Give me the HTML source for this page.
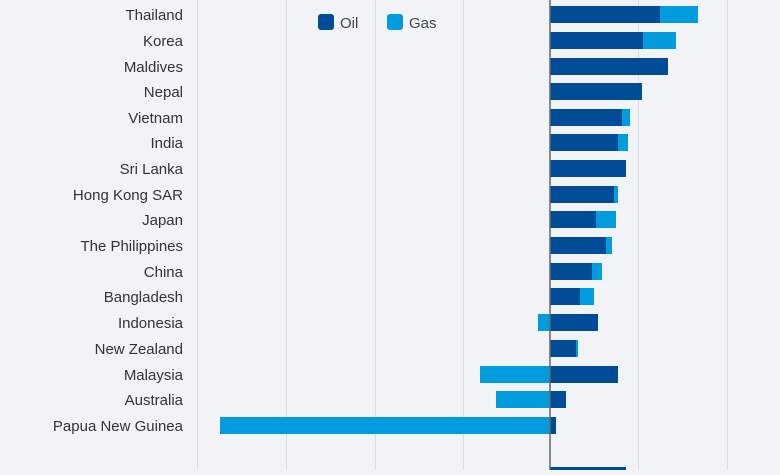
<!DOCTYPE html><html><head><style>body{margin:0;background:#f2f3f6;}</style></head><body>
<svg width="780" height="470" xmlns="http://www.w3.org/2000/svg" font-family="Liberation Sans, sans-serif">
<rect width="780" height="470" fill="#f2f3f6"/>
<g stroke="#dcdee3" stroke-width="1">
<line x1="197.5" y1="0" x2="197.5" y2="470"/><line x1="286.5" y1="0" x2="286.5" y2="470"/><line x1="375.5" y1="0" x2="375.5" y2="470"/><line x1="463.5" y1="0" x2="463.5" y2="470"/><line x1="638.5" y1="0" x2="638.5" y2="470"/><line x1="727.5" y1="0" x2="727.5" y2="470"/>
</g>
<g font-size="15" fill="#333" text-anchor="end">
<text x="183" y="20">Thailand</text><text x="183" y="46">Korea</text><text x="183" y="72">Maldives</text><text x="183" y="97">Nepal</text><text x="183" y="123">Vietnam</text><text x="183" y="148">India</text><text x="183" y="174">Sri Lanka</text><text x="183" y="200">Hong Kong SAR</text><text x="183" y="225">Japan</text><text x="183" y="251">The Philippines</text><text x="183" y="277">China</text><text x="183" y="302">Bangladesh</text><text x="183" y="328">Indonesia</text><text x="183" y="354">New Zealand</text><text x="183" y="380">Malaysia</text><text x="183" y="405">Australia</text><text x="183" y="431">Papua New Guinea</text>
</g>
<g fill="#004c97">
<rect x="550" y="6" width="110" height="17"/><rect x="550" y="32" width="93" height="17"/><rect x="550" y="58" width="118" height="17"/><rect x="550" y="83" width="92" height="17"/><rect x="550" y="109" width="72" height="17"/><rect x="550" y="134" width="68" height="17"/><rect x="550" y="160" width="76" height="17"/><rect x="550" y="186" width="64" height="17"/><rect x="550" y="211" width="46" height="17"/><rect x="550" y="237" width="56" height="17"/><rect x="550" y="263" width="42" height="17"/><rect x="550" y="288" width="30" height="17"/><rect x="550" y="314" width="48" height="17"/><rect x="550" y="340" width="26" height="17"/><rect x="550" y="366" width="68" height="17"/><rect x="550" y="391" width="16" height="17"/><rect x="550" y="417" width="6" height="17"/><rect x="550" y="467" width="76" height="17"/>
<rect x="318" y="14" width="16" height="16" rx="3"/>
</g>
<g fill="#009cde">
<rect x="660" y="6" width="38" height="17"/><rect x="643" y="32" width="33" height="17"/><rect x="622" y="109" width="8" height="17"/><rect x="618" y="134" width="10" height="17"/><rect x="614" y="186" width="4" height="17"/><rect x="596" y="211" width="20" height="17"/><rect x="606" y="237" width="6" height="17"/><rect x="592" y="263" width="10" height="17"/><rect x="580" y="288" width="14" height="17"/><rect x="538" y="314" width="12" height="17"/><rect x="576" y="340" width="2" height="17"/><rect x="480" y="366" width="70" height="17"/><rect x="496" y="391" width="54" height="17"/><rect x="220" y="417" width="330" height="17"/>
<rect x="387" y="14" width="16" height="16" rx="3"/>
</g>
<line x1="550" y1="0" x2="550" y2="470" stroke="#666" stroke-width="1.5"/>
<g font-size="15" fill="#444"><text x="340" y="28">Oil</text><text x="409" y="28">Gas</text></g>
</svg>
</body></html>
